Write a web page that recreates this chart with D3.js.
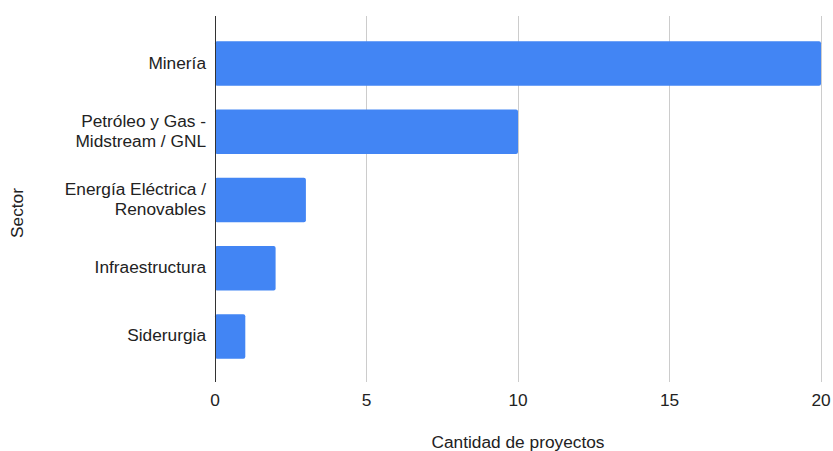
<!DOCTYPE html>
<html><head><meta charset="utf-8">
<script src="https://cdn.jsdelivr.net/npm/d3@7"></script>
<style>body{margin:0;background:#fff}svg{display:block}text{font-family:"Liberation Sans",Arial,sans-serif;fill:#222}</style>
</head><body>
<svg id="c" width="833" height="451"></svg>
<script>
const categories = ["Minería","Petróleo y Gas - Midstream / GNL","Energía Eléctrica / Renovables","Infraestructura","Siderurgia"];
const labelLines = [["Minería"],["Petróleo y Gas -","Midstream / GNL"],["Energía Eléctrica /","Renovables"],["Infraestructura"],["Siderurgia"]];
const values = [20,10,3,2,1];
const xTicks = [0,5,10,15,20];

const svg = d3.select("#c");
const x = d3.scaleLinear().domain([0,20]).range([215,821]);
const y = d3.scaleBand().domain(categories).range([29.4,370.6]).paddingInner(0.35).paddingOuter(0.175);
const plotTop = 16, plotBottom = 382;
const fs = 17.3;

svg.append("g").selectAll("line").data(xTicks.filter(d=>d>0)).join("line")
  .attr("x1",d=>x(d)).attr("x2",d=>x(d)).attr("y1",plotTop).attr("y2",plotBottom)
  .attr("stroke","#cccccc").attr("stroke-width",1).attr("shape-rendering","crispEdges");

svg.append("g").selectAll("rect").data(values).join("rect")
  .attr("x",x(0)).attr("y",(d,i)=>y(categories[i]))
  .attr("width",d=>x(d)-x(0)).attr("height",y.bandwidth())
  .attr("rx",2).attr("fill","#4285f4");

svg.append("line").attr("x1",x(0)).attr("x2",x(0)).attr("y1",plotTop).attr("y2",plotBottom)
  .attr("stroke","#333").attr("stroke-width",1).attr("shape-rendering","crispEdges");

svg.append("g").selectAll("text").data(xTicks).join("text")
  .attr("x",d=>x(d)).attr("y",406).attr("text-anchor","middle").attr("font-size",fs).text(d=>d);

const lg = svg.append("g");
categories.forEach((c,i)=>{
  const lines = labelLines[i];
  const cy = y(c)+y.bandwidth()/2;
  const lh = 19.5;
  lines.forEach((t,j)=>{
    lg.append("text").attr("x",206).attr("y",cy+(j-(lines.length-1)/2)*lh+5)
      .attr("text-anchor","end").attr("font-size",fs).text(t);
  });
});

svg.append("text").attr("x",518).attr("y",448).attr("text-anchor","middle").attr("font-size",fs).text("Cantidad de proyectos");
svg.append("text").attr("transform","translate(23,213) rotate(-90)").attr("text-anchor","middle").attr("font-size",fs).text("Sector");
</script>
</body></html>
